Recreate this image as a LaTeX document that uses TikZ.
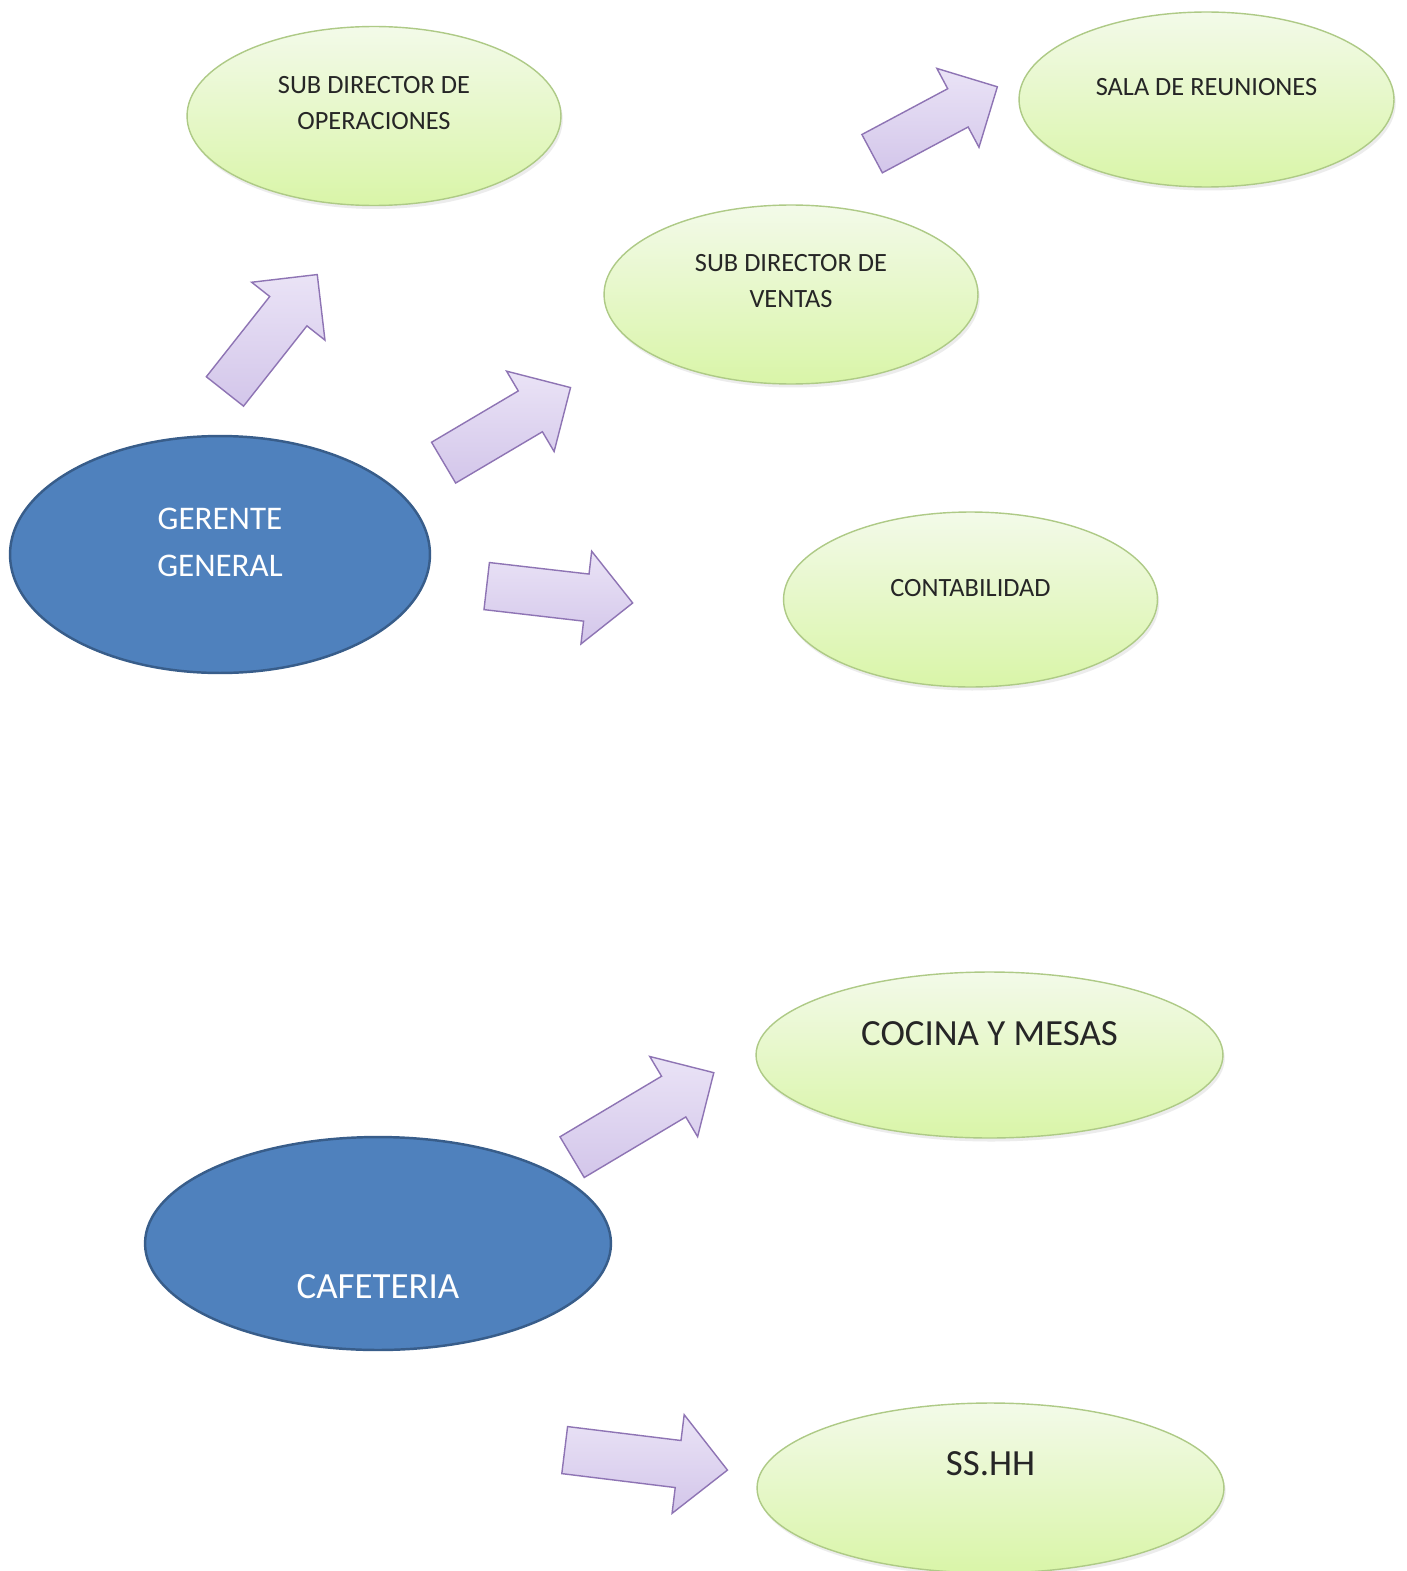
\documentclass[tikz,border=0pt]{standalone}
\usepackage{fontspec}
\setmainfont{Carlito}
\usepackage{tikz}
\usetikzlibrary{shapes.geometric,shapes.arrows,shadows}
\usepackage{xcolor}

\definecolor{blobtop}{HTML}{F3FAE9}
\definecolor{blobbottom}{HTML}{D9F5A8}
\definecolor{blobline}{HTML}{AECA86}
\definecolor{bossfill}{HTML}{4F81BD}
\definecolor{bossline}{HTML}{385D8A}
\definecolor{arrowtop}{HTML}{EAE3F6}
\definecolor{arrowbottom}{HTML}{D3C6EA}
\definecolor{arrowline}{HTML}{8E74B4}

\begin{document}
\begin{tikzpicture}[x=0.02cm, y=-0.02cm,
    blob/.style={ellipse, draw=blobline, line width=0.8pt, top color=blobtop, bottom color=blobbottom, inner sep=0pt,
                 drop shadow={shadow xshift=1pt, shadow yshift=-2pt, opacity=0.15}},
    boss/.style={ellipse, draw=bossline, line width=1.4pt, fill=bossfill, inner sep=0pt},
    blobtext/.style={font=\fontsize{15}{20.4}\selectfont, text=black!85, align=center, inner sep=0pt, anchor=center, #1},
    blobtext/.default={},
    bigtext/.style={font=\fontsize{21}{26}\selectfont, text=black!85, align=center, inner sep=0pt, anchor=center, #1},
    bigtext/.default={},
    bosstext/.style={font=\fontsize{#1}{26.6}\selectfont, text=white, align=center, inner sep=0pt, anchor=center},
    bosstext/.default={18.8},
    bigarrow/.style={single arrow, draw=arrowline, line width=0.8pt, top color=arrowtop, bottom color=arrowbottom,
                     inner sep=0pt, text height=0.46cm, text depth=0.46cm, single arrow head extend=0.46cm,
                     minimum width=1pt, anchor=tail, rotate=#1},
]

\path[use as bounding box, fill=white] (0, 0) rectangle (1406, 1571);

% ===== GERENTE GENERAL =====
\node[boss, minimum width=8.4cm, minimum height=4.74cm,
      label={[bosstext, yshift=0.24cm]center:{GERENTE\\GENERAL}}] (gerente) at (220, 554.5) {};

\node[blob, minimum width=7.48cm, minimum height=3.58cm,
      label={[blobtext={yshift=0.26cm}]center:{SUB DIRECTOR DE\\OPERACIONES}}] (subops) at (374, 116) {};
\node[blob, minimum width=7.48cm, minimum height=3.58cm,
      label={[blobtext={yshift=0.27cm}]center:{SUB DIRECTOR DE\\VENTAS}}] (subventas) at (791, 294.5) {};
\node[blob, minimum width=7.5cm, minimum height=3.5cm,
      label={[blobtext={yshift=0.25cm}]center:{SALA DE REUNIONES}}] (sala) at (1206.5, 99.5) {};
\node[blob, minimum width=7.48cm, minimum height=3.5cm,
      label={[blobtext={yshift=0.23cm}]center:{CONTABILIDAD}}] (contab) at (970.5, 599.5) {};

% ===== CAFETERIA =====
\node[boss, minimum width=9.32cm, minimum height=4.26cm,
      label={[bosstext=21, yshift=-0.87cm]center:{CAFETERIA}}] (cafeteria) at (378, 1243.5) {};

\node[blob, minimum width=9.34cm, minimum height=3.32cm,
      label={[bigtext={yshift=0.42cm}]center:{COCINA Y MESAS}}] (cocina) at (989.5, 1055) {};
\node[blob, minimum width=9.34cm, minimum height=3.4cm,
      label={[bigtext={yshift=0.48cm}]center:{SS.HH}}] (sshh) at (990.5, 1488) {};

% ===== ARROWS =====
\node[bigarrow=51.7, minimum height=2.98cm] (toops) at (224.5, 392) {};
\node[bigarrow=30.6, minimum height=2.95cm] (toventas) at (443, 463) {};
\node[bigarrow=-6.6, minimum height=2.94cm] (tocontab) at (486, 586) {};
\node[bigarrow=28.1, minimum height=2.84cm, text height=0.42cm, text depth=0.42cm] (tosala) at (871.5, 154) {};
\node[bigarrow=30.8, minimum height=3.3cm] (tococina) at (571.5, 1157.5) {};
\node[bigarrow=-7, minimum height=3.28cm, single arrow head extend=0.52cm] (tosshh) at (564, 1450) {};

\end{tikzpicture}
\end{document}
